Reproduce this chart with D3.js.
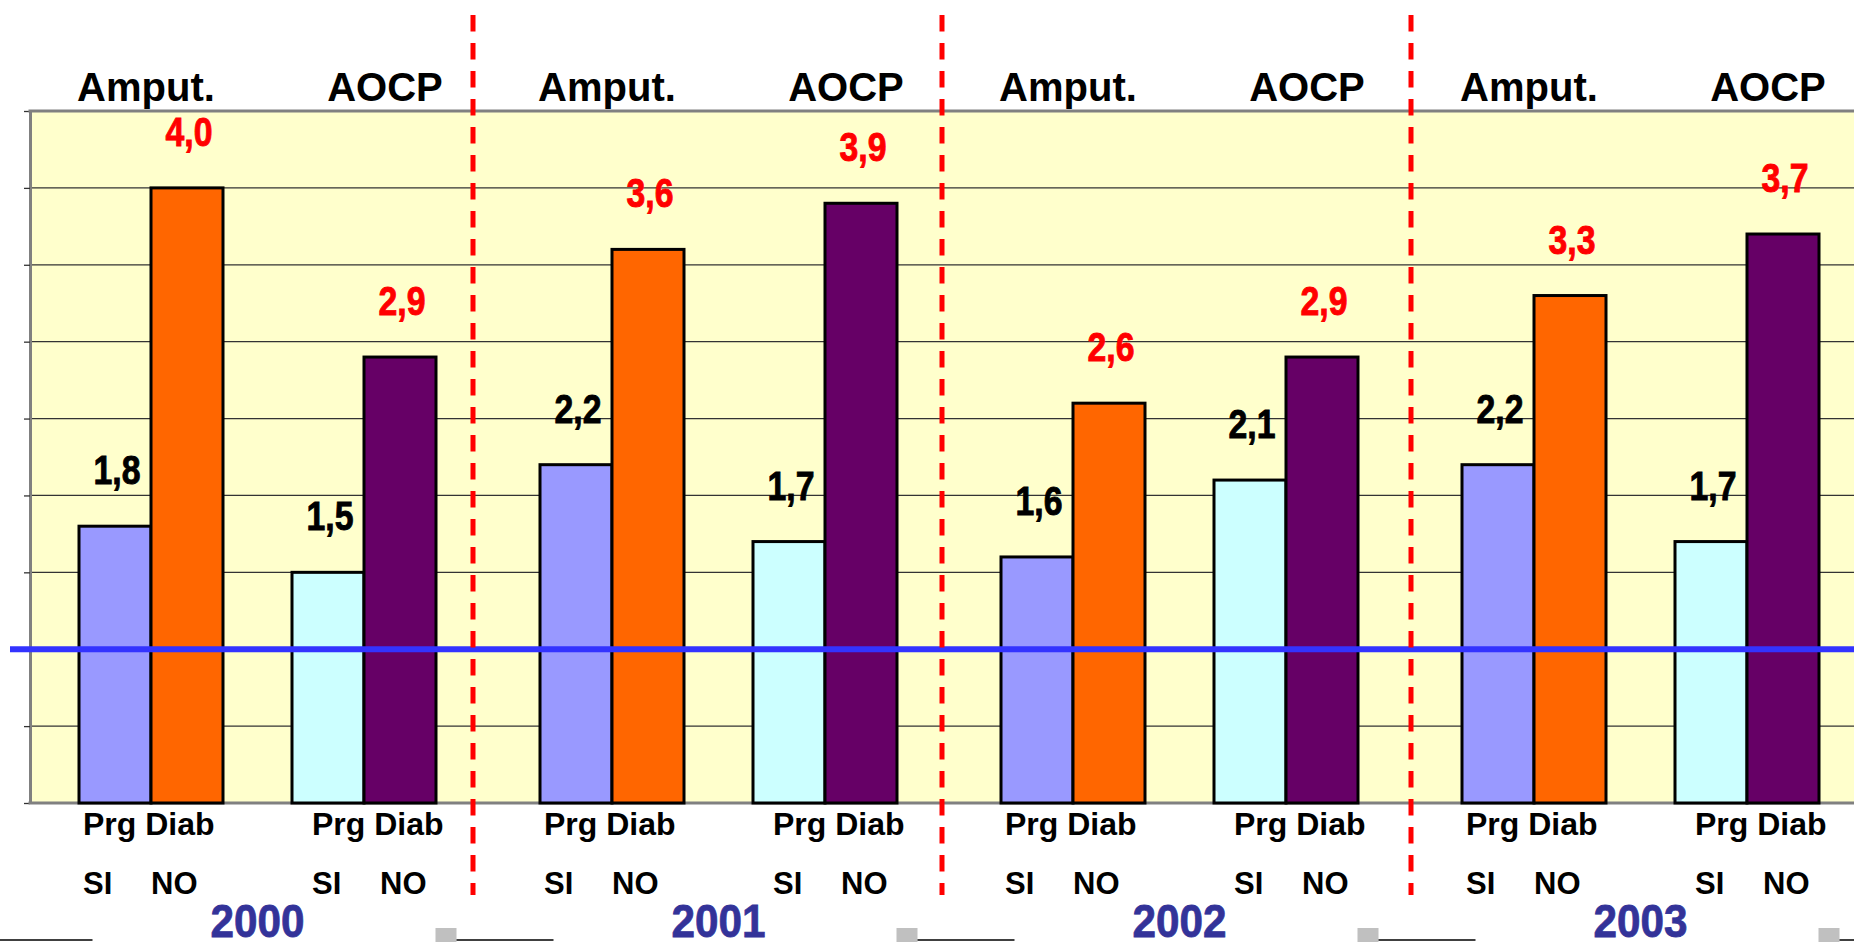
<!DOCTYPE html>
<html>
<head>
<meta charset="utf-8">
<script src="https://cdn.jsdelivr.net/npm/d3@7"></script>
<style>
  body { margin: 0; background: #fff; }
  svg { display: block; }
</style>
</head>
<body>
<div id="chart"></div>
<script>
// Datos
const years = ["2000", "2001", "2002", "2003"];
const measures = ["Amput.", "AOCP"];
const groups = ["SI", "NO"];
const amputSI = [1.8, 2.2, 1.6, 2.2];
const amputNO = [4.0, 3.6, 2.6, 3.3];
const aocpSI = [1.5, 1.7, 2.1, 1.7];
const aocpNO = [2.9, 3.9, 2.9, 3.7];
const refValue = 1.0;
const yTicks = [0, 0.5, 1, 1.5, 2, 2.5, 3, 3.5, 4, 4.5];

const bars = [];
years.forEach((yr, i) => {
  bars.push({ year: yr, measure: "Amput.", group: "SI", value: amputSI[i] });
  bars.push({ year: yr, measure: "Amput.", group: "NO", value: amputNO[i] });
  bars.push({ year: yr, measure: "AOCP", group: "SI", value: aocpSI[i] });
  bars.push({ year: yr, measure: "AOCP", group: "NO", value: aocpNO[i] });
});

const colors = {
  "Amput.SI": "#9999FF",
  "Amput.NO": "#FF6600",
  "AOCPSI": "#CCFFFF",
  "AOCPNO": "#660066"
};

const width = 1854, height = 942;
const plotTop = 111, plotBottom = 803, plotLeft = 30;
const barW = 72;

const boldFont = "'Liberation Sans', Arial, sans-serif";

const comma = d3.formatLocale({ decimal: ",", thousands: ".", grouping: [3], currency: ["", "€"] }).format(".1f");

// escalas
const x = d3.scaleBand().domain(years).range([27, 27 + 4 * 461]).paddingInner(0);
const xm = d3.scalePoint().domain(measures)
  .range([x.bandwidth() / 2 - 106.5, x.bandwidth() / 2 + 106.5]);
const xg = d3.scaleBand().domain(groups).range([-barW, barW]);
const xSep = d3.scaleBand().domain(years).range([4, 4 + 4 * 469]);

const y = d3.scaleLinear().domain([0, 4.5]).range([plotBottom, plotTop]);

const barX = d => x(d.year) + xm(d.measure) + xg(d.group);
const shift = { "Amput.": 0, "AOCP": 16 };
const topShift = { "Amput.": -5, "AOCP": 21 };

const svg = d3.select("#chart").append("svg")
  .attr("width", width)
  .attr("height", height);

// fondo del area
svg.append("rect")
  .attr("x", plotLeft).attr("y", plotTop)
  .attr("width", width - plotLeft).attr("height", plotBottom - plotTop)
  .attr("fill", "#FFFFCC");

// rejilla
svg.append("g")
  .selectAll("line")
  .data(yTicks.filter(t => t > 0 && t < 4.5))
  .enter()
  .append("line")
  .attr("x1", plotLeft).attr("x2", width)
  .attr("y1", d => y(d)).attr("y2", d => y(d))
  .attr("stroke", "#333")
  .attr("stroke-width", 1.3);

// eje y
const yAxis = svg.append("g")
  .attr("transform", "translate(" + plotLeft + ",0)")
  .call(d3.axisLeft(y).tickValues(yTicks).tickSize(6).tickSizeOuter(0).tickPadding(24)
    .tickFormat(d => d === 0 ? "0" : ""));
yAxis.select(".domain").attr("stroke", "#808080").attr("stroke-width", 3);
yAxis.selectAll(".tick line").attr("stroke", "#333").attr("stroke-width", 1.3);
yAxis.selectAll(".tick text")
  .attr("font-family", boldFont).attr("font-weight", "bold")
  .attr("font-size", 30).attr("fill", "#000");

// bordes arriba y abajo
[plotTop, plotBottom].forEach(v => {
  svg.append("line")
    .attr("x1", plotLeft - 1.5).attr("x2", width)
    .attr("y1", v).attr("y2", v)
    .attr("stroke", "#808080").attr("stroke-width", 3);
});

// barras
svg.append("g")
  .selectAll("rect")
  .data(bars)
  .enter()
  .append("rect")
  .attr("x", barX)
  .attr("y", d => y(d.value))
  .attr("width", barW)
  .attr("height", d => y(0) - y(d.value))
  .attr("fill", d => colors[d.measure + d.group])
  .attr("stroke", "#000")
  .attr("stroke-width", 3);

// linea de referencia
svg.append("line")
  .attr("x1", 10).attr("x2", width)
  .attr("y1", y(refValue)).attr("y2", y(refValue))
  .attr("stroke", "#3333FF")
  .attr("stroke-width", 6);

// separadores de año
svg.append("g")
  .selectAll("line")
  .data(years.slice(0, -1))
  .enter()
  .append("line")
  .attr("x1", d => xSep(d) + xSep.bandwidth())
  .attr("x2", d => xSep(d) + xSep.bandwidth())
  .attr("y1", 15).attr("y2", 895)
  .attr("stroke", "#FF0000")
  .attr("stroke-width", 5)
  .attr("stroke-dasharray", "16.5,11.5");

// valores (fuente estrecha)
svg.append("g")
  .selectAll("text")
  .data(bars)
  .enter()
  .append("text")
  .attr("x", d => barX(d) + barW / 2 + 2)
  .attr("y", d => y(d.value) - 42)
  .attr("text-anchor", "middle")
  .attr("font-family", boldFont)
  .attr("font-weight", "bold")
  .attr("font-size", 40)
  .attr("textLength", 47)
  .attr("lengthAdjust", "spacingAndGlyphs")
  .attr("fill", d => d.group === "NO" ? "#FF0000" : "#000")
  .attr("stroke", d => d.group === "NO" ? "#FF0000" : "#000")
  .attr("stroke-width", 0.9)
  .text(d => comma(d.value));

// etiquetas de medida arriba
const pairs = [];
years.forEach(yr => measures.forEach(m => pairs.push({ year: yr, measure: m })));
const pairCenter = d => x(d.year) + xm(d.measure);

svg.append("g")
  .selectAll("text")
  .data(pairs)
  .enter()
  .append("text")
  .attr("x", d => pairCenter(d) + topShift[d.measure])
  .attr("y", 101)
  .attr("text-anchor", "middle")
  .attr("font-family", boldFont)
  .attr("font-weight", "bold")
  .attr("font-size", 40)
  .attr("fill", "#000")
  .text(d => d.measure);

// Prg Diab
svg.append("g")
  .selectAll("text")
  .data(pairs)
  .enter()
  .append("text")
  .attr("x", d => pairCenter(d) - barW + 4 + shift[d.measure])
  .attr("y", 835)
  .attr("font-family", boldFont)
  .attr("font-weight", "bold")
  .attr("font-size", 32)
  .attr("fill", "#000")
  .text("Prg Diab");

// SI / NO
svg.append("g")
  .selectAll("text")
  .data(bars)
  .enter()
  .append("text")
  .attr("x", d => barX(d) + (d.group === "SI" ? 4 : 0) + shift[d.measure])
  .attr("y", 894)
  .attr("font-family", boldFont)
  .attr("font-weight", "bold")
  .attr("font-size", 31)
  .attr("fill", "#000")
  .text(d => d.group);

// años
const yearMid = yr => x(yr) + x.bandwidth() / 2;
svg.append("g")
  .selectAll("text")
  .data(years)
  .enter()
  .append("text")
  .attr("x", yearMid)
  .attr("y", 937)
  .attr("text-anchor", "middle")
  .attr("font-family", boldFont)
  .attr("font-weight", "bold")
  .attr("font-size", 47)
  .attr("textLength", 94)
  .attr("lengthAdjust", "spacingAndGlyphs")
  .attr("fill", "#333399")
  .attr("stroke", "#333399")
  .attr("stroke-width", 0.8)
  .text(d => d);

// marcas grises y lineas abajo
svg.append("g")
  .selectAll("rect")
  .data(years)
  .enter()
  .append("rect")
  .attr("x", d => yearMid(d) + 178)
  .attr("y", 928)
  .attr("width", 21)
  .attr("height", 16)
  .attr("fill", "#C0C0C0");

svg.append("g")
  .selectAll("line")
  .data(years.concat(["fin"]))
  .enter()
  .append("line")
  .attr("x1", (d, i) => i === 0 ? 0 : yearMid(years[i - 1]) + 199)
  .attr("x2", (d, i) => i < years.length ? yearMid(d) - 165 : width)
  .attr("y1", 940).attr("y2", 940)
  .attr("stroke", "#000")
  .attr("stroke-width", 1.5);
</script>
</body>
</html>
